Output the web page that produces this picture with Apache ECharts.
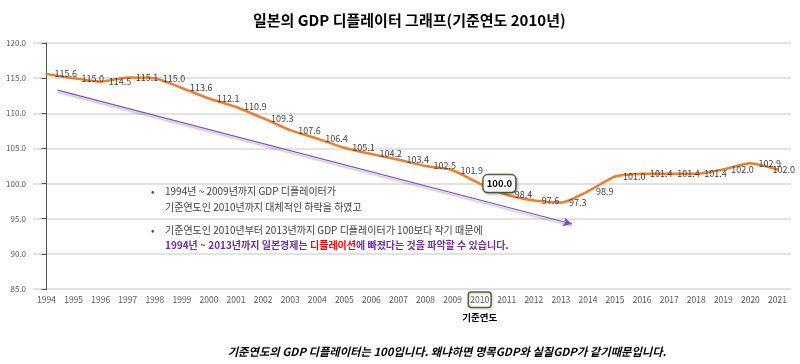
<!DOCTYPE html>
<html><head><meta charset="utf-8">
<script src="https://cdn.jsdelivr.net/npm/echarts@6/dist/echarts.min.js"></script>
<style>html,body{margin:0;padding:0;background:#fff}#c{width:800px;height:364px}</style>
</head><body><div id="c"></div>
<script>
var years = ['1994','1995','1996','1997','1998','1999','2000','2001','2002','2003','2004','2005','2006','2007','2008','2009','2010','2011','2012','2013','2014','2015','2016','2017','2018','2019','2020','2021'];
var deflator = [115.6,115.0,114.5,115.1,115.0,113.6,112.1,110.9,109.3,107.6,106.4,105.1,104.2,103.4,102.5,101.9,100.0,98.4,97.6,97.3,98.9,101.0,101.4,101.4,101.4,102.0,102.9,102.0];
var baseYear = '2010';
// trend arrow: [category position, value]
var trendArrow = [[0.41, 113.3], [19.41, 94.25]];
var titleText = '일본의 GDP 디플레이터 그래프(기준연도 2010년)';
var noteText = '기준연도의 GDP 디플레이터는 100입니다. 왜냐하면 명목GDP와 실질GDP가 같기때문입니다.';
var baseLabel = '기준연도';

var FONT = '"Noto Sans CJK KR", "Noto Sans", sans-serif';
var chart = echarts.init(document.getElementById('c'));
var data = deflator.map(function (v, i) {
  var d = { value: v };
  if (years[i] === baseYear) {
    d.label = {
      fontWeight: 'bold', color: '#000', fontSize: 9.5,
      backgroundColor: '#fff', borderColor: '#4f6b3d', borderWidth: 1.5, borderRadius: 4,
      padding: [4, 3, 3, 3], distance: 3, offset: [0, -3],
      shadowColor: 'rgba(0,0,0,0.3)', shadowBlur: 3, shadowOffsetX: 1, shadowOffsetY: 1
    };
  } else if (i === deflator.length - 1) {
    d.label = { distance: -6 };
  }
  return d;
});
var boxBase = { fontFamily: FONT, fontSize: 8.5, color: '#595959', borderWidth: 1.5, borderRadius: 3, padding: [4, 2, 3, 2] };
chart.setOption({
  animation: false,
  title: {
    text: titleText, left: 248, top: 8,
    textStyle: { fontFamily: FONT, fontSize: 15, fontWeight: 'bold', color: '#000' }
  },
  grid: { left: 33, right: 9, top: 43, bottom: 75 },
  xAxis: [{
    type: 'category', data: years, boundaryGap: true,
    axisLine: { show: false }, axisTick: { show: false },
    axisLabel: {
      interval: 0,
      fontFamily: FONT, fontSize: 8.5, color: '#595959', margin: 3,
      verticalAlign: 'top',
      formatter: function (v) { return v === baseYear ? '{b|' + v + '}\n{s|' + baseLabel + '}' : '{n|' + v + '}'; },
      rich: {
        n: Object.assign({}, boxBase, { borderColor: 'transparent' }),
        b: Object.assign({}, boxBase, { borderColor: '#4f6b3d', shadowColor: 'rgba(0,0,0,0.25)', shadowBlur: 2, shadowOffsetX: 1, shadowOffsetY: 1 }),
        s: { fontFamily: FONT, fontSize: 9.5, fontWeight: 'bold', color: '#000', padding: [5, 0, 0, 0] }
      }
    }
  }, {
    type: 'value', min: -0.5, max: 27.5, show: false
  }],
  yAxis: {
    type: 'value', min: 85, max: 120, interval: 5,
    axisLabel: { fontFamily: FONT, fontSize: 8, color: '#595959', margin: 7, formatter: function (v) { return v.toFixed(1); } },
    splitLine: { lineStyle: { color: '#d9d9d9', width: 1.5 } }
  },
  series: [{
    type: 'line', data: data, smooth: 0.2, symbol: 'circle', symbolSize: 2, showSymbol: true,
    itemStyle: { color: '#ED7D31' },
    lineStyle: { color: '#ED7D31', width: 2.5, cap: 'round', join: 'round' },
    label: {
      show: true, position: 'right', distance: 7, fontFamily: FONT, fontSize: 9, color: '#404040',
      formatter: function (p) { return p.value.toFixed(1); }
    },
    labelLayout: { hideOverlap: false }
  }, {
    type: 'line', xAxisIndex: 1, data: trendArrow, symbol: 'none', silent: true,
    lineStyle: { opacity: 0 },
    markLine: {
      silent: true, symbol: ['none', 'arrow'], symbolSize: [7, 9],
      label: { show: false },
      lineStyle: { color: '#7f4fc0', width: 1.2, type: 'solid', shadowColor: 'rgba(0,0,0,0.35)', shadowBlur: 2, shadowOffsetY: 2 },
      data: [[{ coord: trendArrow[0] }, { coord: trendArrow[1] }]]
    }
  }],
  graphic: [
    { type: 'text', left: 151, top: 186, style: { text: '•', font: '10px ' + FONT, fill: '#404040' } },
    { type: 'text', left: 165, top: 186, style: { text: '1994년 ~ 2009년까지 GDP 디플레이터가', font: '10px ' + FONT, fill: '#404040' } },
    { type: 'text', left: 165, top: 202, style: { text: '기준연도인 2010년까지 대체적인 하락을 하였고', font: '10px ' + FONT, fill: '#404040' } },
    { type: 'text', left: 151, top: 225, style: { text: '•', font: '10px ' + FONT, fill: '#404040' } },
    { type: 'text', left: 165, top: 225, style: { text: '기준연도인 2010년부터 2013년까지 GDP 디플레이터가 100보다 작기 때문에', font: '10px ' + FONT, fill: '#404040' } },
    { type: 'text', left: 165, top: 240, style: {
      text: '{p|1994년 ~ 2013년까지 일본경제는 }{r|디플레이션}{p|에 빠졌다는 것을 파악할 수 있습니다.}',
      rich: {
        p: { fontFamily: FONT, fontSize: 10, fontWeight: 'bold', fill: '#7030A0', color: '#7030A0' },
        r: { fontFamily: FONT, fontSize: 10, fontWeight: 'bold', fill: '#FF0000', color: '#FF0000' }
      } } },
    { type: 'text', x: 447, y: 352, style: { text: noteText, font: 'italic bold 11.3px ' + FONT, fill: '#000', textAlign: 'center', textVerticalAlign: 'middle' } }
  ]
});
</script></body></html>
